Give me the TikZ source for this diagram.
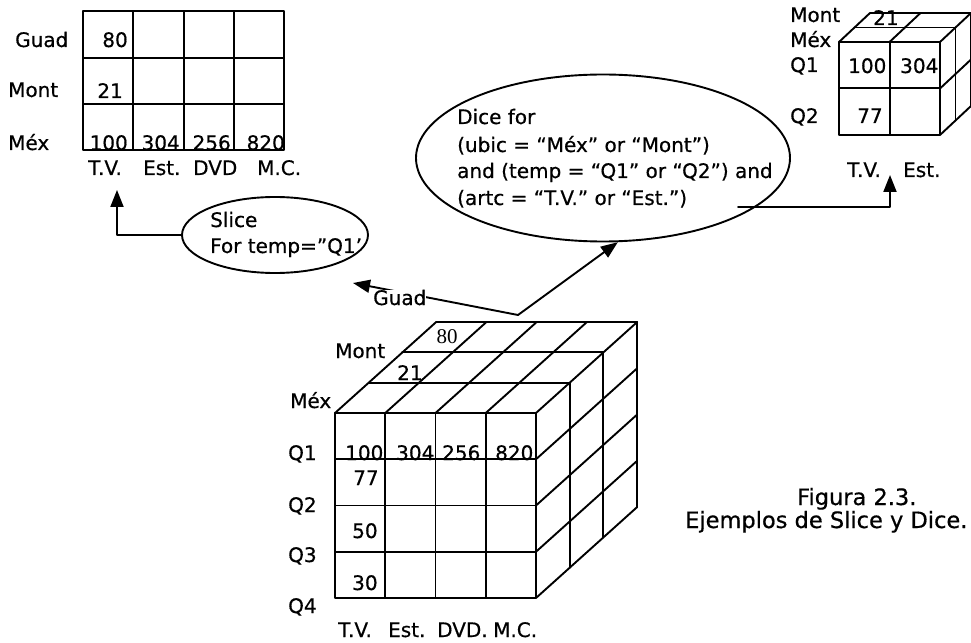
\documentclass[tikz,border=0pt]{standalone}
\usepackage{fontspec}
\setmainfont{DejaVu Sans}[FakeBold=0.6]
\newfontfamily\serifnum{Liberation Serif}
\usetikzlibrary{arrows.meta,shapes.geometric}
\begin{document}
\begin{tikzpicture}[x=1bp,y=-1bp,
  ln/.style={line width=1.9bp,line cap=round,line join=round},
  txt/.style={inner sep=0pt,anchor=base west,font=\fontsize{20bp}{24bp}\selectfont},
  txtr/.style={inner sep=0pt,anchor=base east,font=\fontsize{20bp}{24bp}\selectfont},
  captxt/.style={inner sep=0pt,anchor=base west,font=\fontsize{22.5bp}{26bp}\selectfont},
  arr/.style={ln,-{Triangle[length=17bp,width=13bp]}},
  oval/.style={draw,ellipse,line width=1.9bp,inner sep=0pt}]
\useasboundingbox (0,0) rectangle (971,643);

% ---------- top-left table (slice result) ----------
\draw[ln] (83,11) rectangle (284,150);
\foreach \x in {133,184,234} \draw[ln] (\x,11) -- (\x,150);
\foreach \y in {58,104} \draw[ln] (83,\y) -- (284,\y);
\node[txt] (tguad) at (15,47) {Guad};
\node[txt] (tmont) at (8,97) {Mont};
\node[txt] (tmex)  at (8,150) {Méx};
\node[txtr] (t80)  at (128,47) {80};
\node[txtr] (t21)  at (123,98) {21};
\node[txtr] (t100) at (128,150) {100};
\node[txtr] (t304) at (180,150) {304};
\node[txtr] (t256) at (231,150) {256};
\node[txtr] (t820) at (285,150) {820};
\node[txt] (ttv)  at (88,175) {T.V.};
\node[txt] (test) at (143,175) {Est.};
\node[txt] (tdvd) at (193,175) {DVD};
\node[txt] (tmc)  at (257,175) {M.C.};

% ---------- slice ellipse ----------
\node[oval,minimum width=186bp,minimum height=76bp] (slice) at (275,235) {};
\node[txt] (slicea) at (210,227) {Slice};
\node[txt] (sliceb) at (210,253) {For temp=”Q1’};
\coordinate (tvtip) at (117,190);
\draw[arr] (slice.west) -| (tvtip);

% ---------- dice ellipse ----------
\node[oval,minimum width=374bp,minimum height=167bp] (dice) at (603,158) {};
\node[txt] (dicea) at (457,124) {Dice for};
\node[txt] (diceb) at (457,152) {(ubic = “Méx” or “Mont”)};
\node[txt] (dicec) at (457,178) {and (temp = “Q1” or “Q2”) and};
\node[txt] (diced) at (457,205) {(artc = “T.V.” or “Est.”)};

% ---------- big cube ----------
\foreach \k in {0,...,3}
  \draw[ln] ({335+33.7*\k},{413-30.3*\k}) -- ({536+33.7*\k},{413-30.3*\k});
\foreach \i in {0,...,4}
  \draw[ln] ({335+50.25*\i},413) -- ++(101.1,-90.9);
\draw[ln] (335,413) rectangle (536,598);
\foreach \i in {1,2,3} \draw[ln] ({335+50.25*\i},413) -- ++(0,185);
\foreach \j in {1,2,3} \draw[ln] (335,{413+46.25*\j}) -- ++(201,0);
\foreach \k in {1,2,3}
  \draw[ln] ({536+33.7*\k},{413-30.3*\k}) -- ++(0,185);
\foreach \j in {1,...,4}
  \draw[ln] (536,{413+46.25*\j}) -- ++(101.1,-90.9);

\node[txt] (cmex)  at (290,408) {Méx};
\node[txt] (cmont) at (335,358) {Mont};
\node[txt] (cq1) at (288,460) {Q1};
\node[txt] (cq2) at (288,512) {Q2};
\node[txt] (cq3) at (288,562) {Q3};
\node[txt] (cq4) at (288,613) {Q4};
\node[txt] (ctv)  at (338,637) {T.V.};
\node[txt] (cest) at (388,637) {Est.};
\node[txt] (cdvd) at (437,637) {DVD.};
\node[txt] (cmc)  at (493,637) {M.C.};
\node[txt] (c100) at (345,460) {100};
\node[txt] (c304) at (396,460) {304};
\node[txt] (c256) at (442,460) {256};
\node[txt] (c820) at (495,460) {820};
\node[txt] (c77) at (353,485) {77};
\node[txt] (c50) at (352,538) {50};
\node[txt] (c30) at (352,590) {30};
\node[inner sep=0pt,font=\serifnum\fontsize{21bp}{22bp}\selectfont] (c80) at (447,337) {80};
\node[txt] (c21) at (397,380) {21};

% ---------- arrows from the cube ----------
\coordinate (cubept) at (518,315);
\coordinate (guadtip) at (353,283);
\draw[arr] (cubept) -- (guadtip);
\node[txt,fill=white] (cguad) at (373,305) {Guad};
\draw[arr] (cubept) -- (dice.280);

% ---------- small cube (dice result) ----------
\draw[ln] (839,42) rectangle (940,135);
\draw[ln] (890,42) -- (890,135);
\draw[ln] (839,88) -- (940,88);
\foreach \k in {1,2}
  \draw[ln] ({839+15.5*\k},{42-14.5*\k}) -- ({940+15.5*\k},{42-14.5*\k});
\foreach \i in {0,1,2}
  \draw[ln] ({839+50.5*\i},42) -- ++(31,-29);
\foreach \k in {1,2}
  \draw[ln] ({940+15.5*\k},{42-14.5*\k}) -- ++(0,93);
\foreach \j in {1,2}
  \draw[ln] (940,{42+46.5*\j}) -- ++(31,-29);
\node[txt] (smont) at (790,22) {Mont};
\node[txt] (smex)  at (790,47) {Méx};
\node[txt] (sq1) at (790,72) {Q1};
\node[txt] (sq2) at (790,123) {Q2};
\node[txt] (s100) at (848,73) {100};
\node[txt] (s304) at (900,73) {304};
\node[txt] (s77) at (857,123) {77};
\node[txt] (s21) at (873,25) {21};
\node[txt] (stv)  at (847,177) {T.V.};
\node[txt] (sest) at (903,177) {Est.};
\coordinate (dstart) at (738,207);
\coordinate (sctip) at (890,175);
\draw[arr] (dstart) -| (sctip);

% ---------- caption ----------
\node[captxt] (fig1) at (797,505) {Figura 2.3.};
\node[captxt] (fig2) at (685,528) {Ejemplos de Slice y Dice.};
\end{tikzpicture}
\end{document}
